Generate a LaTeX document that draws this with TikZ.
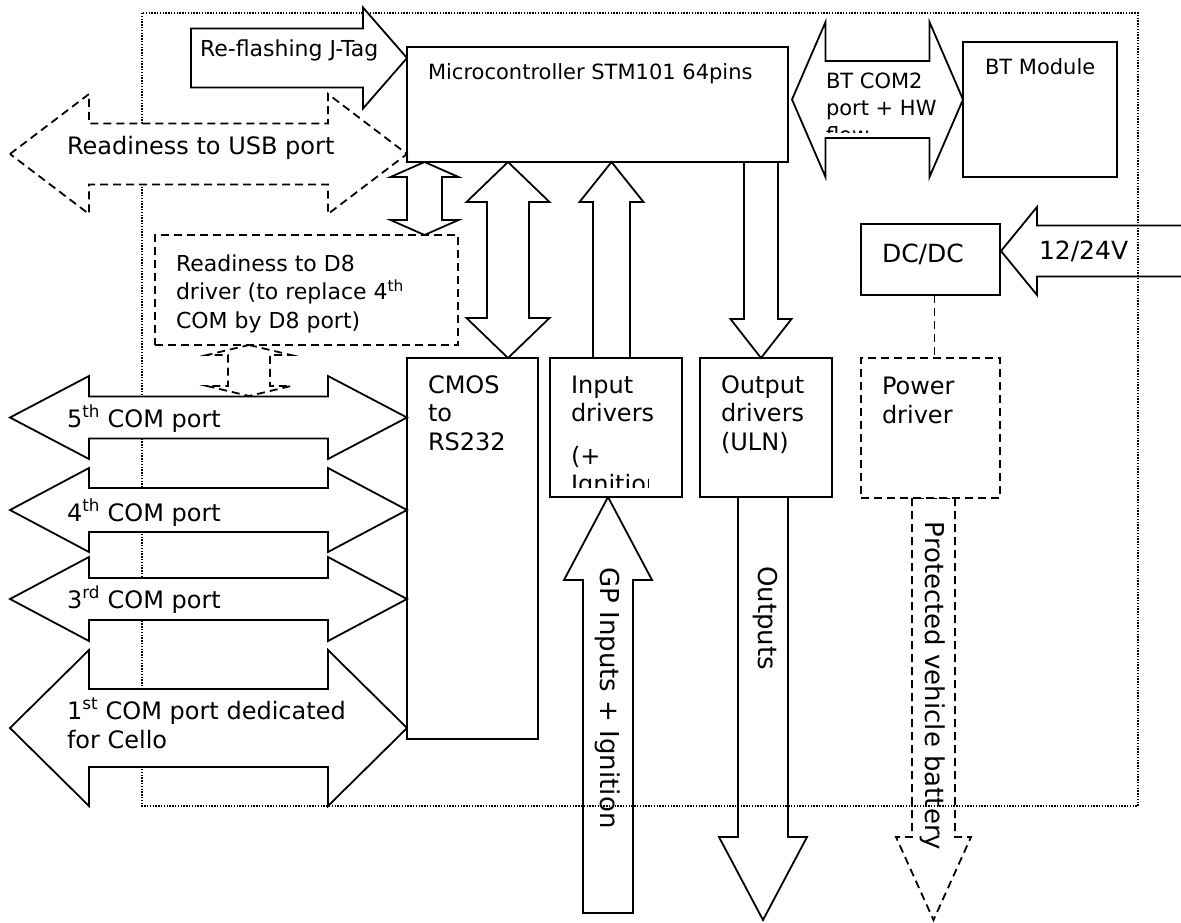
\documentclass[tikz,border=0pt]{standalone}
\usepackage{fontspec}
\setmainfont{DejaVu Sans}
\tikzset{
  solidarrow/.style={draw=black, fill=white, line width=1.8pt},
  dasharrow/.style={draw=black, fill=white, line width=1.8pt, dash pattern=on 8pt off 5pt},
  box/.style={draw=black, fill=white, line width=1.8pt, inner sep=0pt, outer sep=0pt, anchor=north west},
  dbox/.style={box, dash pattern=on 8pt off 5pt},
  frame/.style={draw=black, line width=1.4pt, dash pattern=on 1.4pt off 1.4pt},
  lbl/.style={inner sep=0pt, outer sep=0pt, anchor=base west},
  rlbl/.style={inner sep=0pt, outer sep=0pt, rotate=-90, font=\fontsize{26}{30}\selectfont},
  fa/.style={font=\fontsize{21}{25}\selectfont},
  fb/.style={font=\fontsize{22}{26}\selectfont},
  fc/.style={font=\fontsize{24}{28}\selectfont},
  fd/.style={font=\fontsize{25}{30}\selectfont},
}
% horizontal double arrow: style, x left tip, x right tip, y centre, shaft half, head half, head length
\newcommand{\BAhd}[7]{\draw[#1] (#2,#4) -- ({#2+#7},{#4-#6}) -- ({#2+#7},{#4-#5}) -- ({#3-#7},{#4-#5}) -- ({#3-#7},{#4-#6}) -- (#3,#4) -- ({#3-#7},{#4+#6}) -- ({#3-#7},{#4+#5}) -- ({#2+#7},{#4+#5}) -- ({#2+#7},{#4+#6}) -- cycle;}
% vertical double arrow: style, y top tip, y bottom tip, x centre, shaft half, head half, head length
\newcommand{\BAvd}[7]{\draw[#1] (#4,#2) -- ({#4+#6},{#2+#7}) -- ({#4+#5},{#2+#7}) -- ({#4+#5},{#3-#7}) -- ({#4+#6},{#3-#7}) -- (#4,#3) -- ({#4-#6},{#3-#7}) -- ({#4-#5},{#3-#7}) -- ({#4-#5},{#2+#7}) -- ({#4-#6},{#2+#7}) -- cycle;}
% horizontal single arrow: style, x tail, x tip, y centre, shaft half, head half, signed head length
\newcommand{\BAhs}[7]{\draw[#1] (#2,{#4-#5}) -- ({#3-#7},{#4-#5}) -- ({#3-#7},{#4-#6}) -- (#3,#4) -- ({#3-#7},{#4+#6}) -- ({#3-#7},{#4+#5}) -- (#2,{#4+#5}) -- cycle;}
% vertical single arrow: style, y tail, y tip, x centre, shaft half, head half, signed head length
\newcommand{\BAvs}[7]{\draw[#1] ({#4-#5},#2) -- ({#4-#5},{#3-#7}) -- ({#4-#6},{#3-#7}) -- (#4,#3) -- ({#4+#6},{#3-#7}) -- ({#4+#5},{#3-#7}) -- ({#4+#5},#2) -- cycle;}
\begin{document}
\begin{tikzpicture}[x=1pt,y=-1pt]
\useasboundingbox[fill=white] (0,0) rectangle (1181,922);

% arrows that lie under the dotted frame
\BAhs{solidarrow}{1195}{1001}{251}{25.5}{44}{-36}
\BAvs{solidarrow}{913}{497}{608}{25}{44}{-83}
\BAvs{solidarrow}{497}{920}{763}{25}{44}{83}
\BAvs{dasharrow}{498}{920}{933.5}{21.5}{37.5}{83}
\node[rlbl] (gplbl) at (608,698) {GP Inputs + Ignition};
\node[rlbl] (outlbl) at (765,618) {Outputs};
\node[rlbl] (batlbl) at (933,686) {Protected vehicle battery};
\node[lbl,fd] (vlbl) at (1039,259) {12/24V};

% dotted frame
\draw[frame] (142,13) rectangle (1138,806);

% boxes
\node[box, minimum width=381pt, minimum height=115pt] (mcu) at (407,47) {};
\node[box, minimum width=154pt, minimum height=135pt] (bt) at (963,42) {};
\node[box, minimum width=139pt, minimum height=71pt] (dcdc) at (861,224) {};
\node[dbox, minimum width=303pt, minimum height=110pt] (d8) at (155,235) {};
\node[box, minimum width=131pt, minimum height=381pt] (cmos) at (407,358) {};
\node[box, minimum width=132pt, minimum height=139pt] (inp) at (550,358) {};
\node[box, minimum width=132pt, minimum height=139pt] (outp) at (700,358) {};
\node[dbox, minimum width=139pt, minimum height=140pt] (pwr) at (861,358) {};
\draw[line width=1.8pt, dash pattern=on 8pt off 5pt] ([xshift=4pt]dcdc.south) -- ([xshift=4pt]pwr.north);

% block arrows
\BAhs{solidarrow}{191}{407}{58}{29.5}{50.5}{44}
\BAhd{dasharrow}{10}{407}{154}{30.5}{60}{79}
\BAhd{solidarrow}{792}{963}{99.5}{38.5}{77.5}{33.5}
\BAvd{solidarrow}{162}{235}{424.5}{17.5}{34}{15}
\BAvd{solidarrow}{162}{358}{508}{21}{41.5}{40}
\BAvs{solidarrow}{358}{162}{611.5}{18.5}{32}{-40}
\BAvs{solidarrow}{162}{358}{761}{17}{30.5}{39}
\BAvd{dasharrow}{345}{396}{249}{21}{42}{10}
\BAhd{solidarrow}{10}{407}{417.5}{21}{41.5}{79}
\BAhd{solidarrow}{10}{407}{510}{22}{42}{79}
\BAhd{solidarrow}{10}{407}{599}{21}{42}{79}
\BAhd{solidarrow}{10}{407}{728}{39}{78}{79}

% labels
\node[lbl,fa] (mculbl) at (428,79) {Microcontroller STM101 64pins};
\node[lbl,fb] (jtaglbl) at (200,56) {Re-flashing J-Tag};
\node[lbl,fc] (usblbl) at (67,154) {Readiness to USB port};
\node[lbl,fa] (btlbl) at (985,74) {BT Module};
\begin{scope}
  \clip (800,60) rectangle (960,132);
  \node[lbl,fa] (bta) at (826,88) {BT COM2};
  \node[lbl,fa] (btb) at (826,115) {port + HW};
  \node[lbl,fa] (btc) at (826,142) {flow};
\end{scope}
\node[lbl,fd] (dclbl) at (882,262) {DC/DC};
\node[lbl,fb] (d8a) at (176,271) {Readiness to D8};
\node[lbl,fb] (d8b) at (176,299) {driver (to replace 4\textsuperscript{th}};
\node[lbl,fb] (d8c) at (176,328) {COM by D8 port)};
\node[lbl,fc] (c5) at (67,427) {5\textsuperscript{th} COM port};
\node[lbl,fc] (c4) at (67,521) {4\textsuperscript{th} COM port};
\node[lbl,fc] (c3) at (67,608) {3\textsuperscript{rd} COM port};
\node[lbl,fc] (c1a) at (67,719) {1\textsuperscript{st} COM port dedicated};
\node[lbl,fc] (c1b) at (67,748) {for Cello};
\node[lbl,fc] (cma) at (428,393) {CMOS};
\node[lbl,fc] (cmb) at (428,421) {to};
\node[lbl,fc] (cmc) at (428,450) {RS232};
\node[lbl,fc] (ina) at (571,393) {Input};
\node[lbl,fc] (inb) at (571,421) {drivers};
\begin{scope}
  \clip (560,430) rectangle (648,487);
  \node[lbl,fc] (inc) at (571,464) {(+};
  \node[lbl,fc] (ind) at (571,492) {Ignition)};
\end{scope}
\node[lbl,fc] (oua) at (721,393) {Output};
\node[lbl,fc] (oub) at (721,421) {drivers};
\node[lbl,fc] (ouc) at (721,450) {(ULN)};
\node[lbl,fc] (pwa) at (882,394) {Power};
\node[lbl,fc] (pwb) at (882,423) {driver};
\end{tikzpicture}
\end{document}
